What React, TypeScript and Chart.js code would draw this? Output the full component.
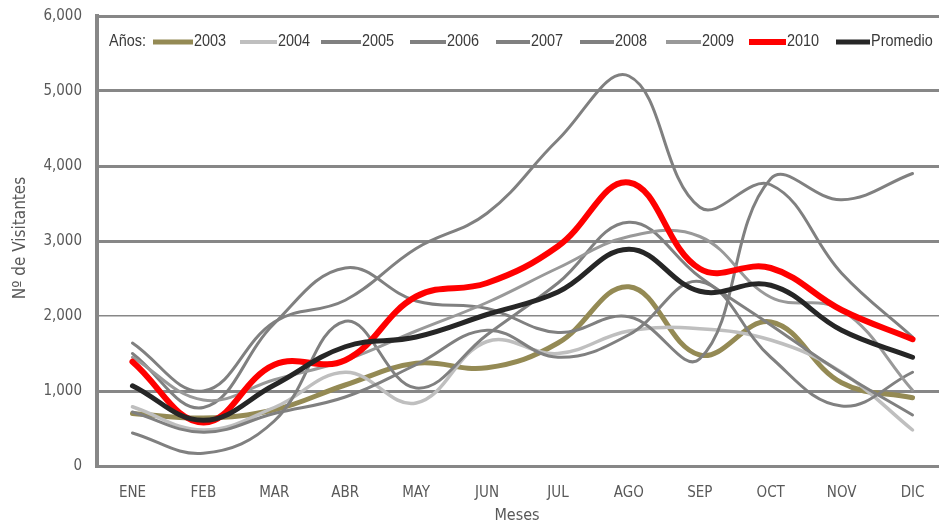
import React, { useEffect, useRef } from "react";
import { Chart, registerables } from "chart.js";

Chart.register(...registerables);

const months = ["ENE", "FEB", "MAR", "ABR", "MAY", "JUN", "JUL", "AGO", "SEP", "OCT", "NOV", "DIC"];
const yTickValues = [0, 1000, 2000, 3000, 4000, 5000, 6000];

const v2003 = [700, 640, 750, 1080, 1370, 1310, 1640, 2390, 1480, 1920, 1110, 910];
const v2004 = [790, 480, 780, 1250, 840, 1660, 1500, 1800, 1830, 1680, 1250, 480];
const v2005 = [1640, 1000, 1920, 2210, 2900, 3370, 4350, 5200, 3450, 3750, 2570, 1720];
const v2006 = [1500, 780, 1900, 2640, 2200, 2100, 1780, 1990, 1430, 3830, 3550, 3900];
const v2007 = [440, 170, 600, 1930, 1040, 1750, 2440, 3250, 2520, 1880, 1240, 680];
const v2008 = [720, 450, 700, 920, 1350, 1810, 1450, 1750, 2460, 1450, 800, 1250];
const v2009 = [1450, 880, 1150, 1410, 1800, 2180, 2640, 3060, 3060, 2250, 2080, 1010];
const v2010 = [1390, 580, 1350, 1410, 2260, 2440, 2930, 3780, 2630, 2640, 2080, 1690];
const vPromedio = [1070, 610, 1080, 1590, 1720, 2020, 2320, 2890, 2330, 2410, 1810, 1450];

const seriesLabels = ["2003", "2004", "2005", "2006", "2007", "2008", "2009", "2010", "Promedio"];
const seriesValues = [v2003, v2004, v2005, v2006, v2007, v2008, v2009, v2010, vPromedio];
const seriesColors = ["#948a54", "#bfbfbf", "#808080", "#808080", "#808080", "#808080", "#999999", "#ff0000", "#262626"];
const seriesWidths = [5, 3.5, 3, 3, 3, 3, 3, 6, 5];

const TICK_FONT = '"DejaVu Sans Condensed", "DejaVu Sans", sans-serif';
const AXIS_GRAY = "#878787";
const TEXT_GRAY = "#595959";

// legend layout (pixels)
const LEGEND_SWATCH_X = [153, 240, 321, 410, 496, 580, 666, 749, 836];
const LEGEND_TEXT_X = [194, 278, 362, 447, 531, 615, 702, 787, 871];

export default function App() {
  const ref = useRef<HTMLCanvasElement>(null);

  useEffect(() => {
    if (!ref.current) return;

    const overlay = {
      id: "overlay",
      afterDraw(chart: any) {
        const ctx = chart.ctx as CanvasRenderingContext2D;
        // Axis titles
        ctx.save();
        ctx.fillStyle = TEXT_GRAY;
        ctx.font = `17px ${TICK_FONT}`;
        ctx.textAlign = "center";
        ctx.textBaseline = "middle";
        ctx.translate(21, 238);
        ctx.rotate(-Math.PI / 2);
        ctx.fillText("Nº de Visitantes", 0, 0);
        ctx.restore();

        ctx.save();
        ctx.fillStyle = TEXT_GRAY;
        ctx.font = `16px ${TICK_FONT}`;
        ctx.textAlign = "center";
        ctx.textBaseline = "alphabetic";
        ctx.fillText("Meses", 517, 520);
        ctx.restore();

        // Legend
        const sx = 0.85;
        const ly = 41;
        ctx.save();
        ctx.font = '17px "Liberation Sans", sans-serif';
        ctx.fillStyle = "#3a3a3a";
        ctx.textBaseline = "middle";
        ctx.textAlign = "left";
        const drawText = (t: string, x: number) => {
          ctx.save();
          ctx.translate(x, ly);
          ctx.scale(sx, 1);
          ctx.fillText(t, 0, 0);
          ctx.restore();
        };
        drawText("Años:", 109);
        chart.data.datasets.forEach((ds: any, i: number) => {
          const x0 = LEGEND_SWATCH_X[i];
          const x1 = LEGEND_TEXT_X[i] - 1;
          ctx.save();
          ctx.strokeStyle = ds.borderColor;
          ctx.lineWidth = Math.max(ds.borderWidth, 4);
          ctx.lineCap = "butt";
          ctx.beginPath();
          ctx.moveTo(x0, ly + 1);
          ctx.lineTo(x1, ly + 1);
          ctx.stroke();
          ctx.restore();
          drawText(ds.label, LEGEND_TEXT_X[i]);
        });
        ctx.restore();
      },
    };

    const chart = new Chart(ref.current, {
      type: "line",
      data: {
        labels: months,
        datasets: seriesLabels.map((label, i) => ({
          label,
          data: seriesValues[i],
          borderColor: seriesColors[i],
          backgroundColor: seriesColors[i],
          borderWidth: seriesWidths[i],
          borderCapStyle: "round",
          borderJoinStyle: "round",
          pointRadius: 0,
          tension: 0.4,
          fill: false,
          order: seriesLabels.length - i,
        })),
      },
      options: {
        responsive: false,
        animation: false,
        layout: { padding: { top: 16, left: 0, right: 0, bottom: 0 } },
        plugins: {
          legend: { display: false },
          tooltip: { enabled: false },
        },
        scales: {
          x: {
            type: "category",
            offset: true,
            grid: { display: false },
            border: { display: true, color: AXIS_GRAY, width: 3 },
            ticks: {
              color: TEXT_GRAY,
              font: { family: TICK_FONT, size: 15 },
              padding: 10,
              maxRotation: 0,
              autoSkip: false,
            },
            afterFit: (s: any) => {
              s.height = 56;
              s.paddingLeft = 0;
              s.paddingRight = 0;
            },
          },
          y: {
            min: 0,
            max: 6000,
            afterBuildTicks: (s: any) => {
              s.ticks = yTickValues.map((v) => ({ value: v }));
            },
            ticks: {
              color: TEXT_GRAY,
              font: { family: TICK_FONT, size: 15 },
              padding: 15,
              callback: (v: any) => Number(v).toLocaleString("en-US"),
            },
            grid: {
              color: AXIS_GRAY,
              lineWidth: (c: any) => (c.tick && c.tick.value === 2000 ? 1.5 : 3),
              drawTicks: false,
            },
            border: { display: true, color: AXIS_GRAY, width: 4 },
            afterFit: (s: any) => {
              s.width = 97;
              s.paddingTop = 0;
              s.paddingBottom = 0;
            },
          },
        },
      },
      plugins: [overlay],
    } as any);

    return () => chart.destroy();
  }, []);

  return (
    <div
      style={{
        position: "absolute",
        left: 0,
        top: 0,
        width: 939,
        height: 522,
        overflow: "hidden",
        background: "#ffffff",
      }}
    >
      <canvas ref={ref} width={948} height={522} style={{ display: "block", width: 948, height: 522 }} />
    </div>
  );
}
